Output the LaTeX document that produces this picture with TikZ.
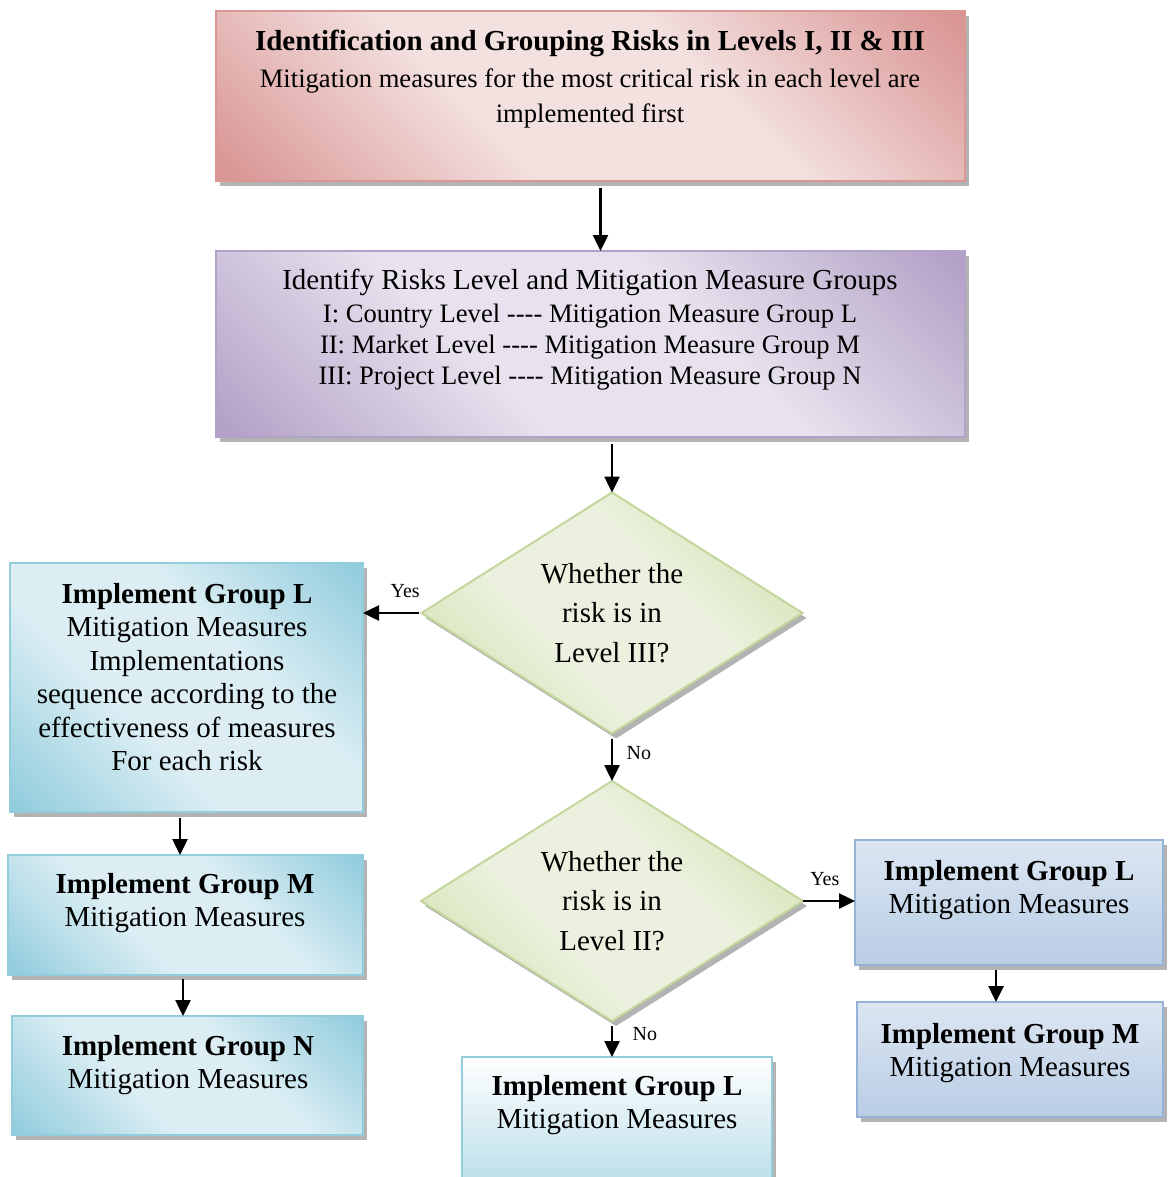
\documentclass[tikz,border=0pt]{standalone}
\usepackage{fontspec}
\setmainfont{Liberation Serif}
\usetikzlibrary{shapes.geometric,shadows,arrows.meta}

\definecolor{pinkdark}{HTML}{D99694}
\definecolor{pinklight}{HTML}{F3E1E0}
\definecolor{purpledark}{HTML}{B3A2C7}
\definecolor{purplelight}{HTML}{E7E2EE}
\definecolor{aquadark}{HTML}{93CDDD}
\definecolor{aqualight}{HTML}{DCEEF4}
\definecolor{aquamid}{HTML}{B7DDE8}
\definecolor{bluedark}{HTML}{95B3D7}
\definecolor{bluelight}{HTML}{DCE6F2}
\definecolor{bluemid}{HTML}{B9CDE5}
\definecolor{greendark}{HTML}{C3D69B}
\definecolor{greenmid}{HTML}{CCDDA6}
\definecolor{greenlight}{HTML}{EBF1DE}

% soft diagonal fill: dark corners, wide light middle
\newcommand{\softshade}[3]{%
  \pgfdeclareverticalshading{#1}{100bp}{color(0bp)=(#2); color(16bp)=(#2);
    color(40bp)=(#3); color(60bp)=(#3); color(84bp)=(#2); color(100bp)=(#2)}}
\softshade{pinkshade}{pinkdark}{pinklight}
\softshade{purpleshade}{purpledark}{purplelight}
\softshade{aquashade}{aquadark}{aqualight}
\softshade{greenshade}{greenmid}{greenlight}

\newcommand{\fbig}{\fontsize{29}{33.5}\selectfont}
\newcommand{\fsmall}{\fontsize{20}{24}\selectfont}

\begin{document}
\begin{tikzpicture}[x=1pt, y=-1pt, >={Triangle[length=16pt, width=15pt]},
    box/.style={draw, rectangle, line width=2pt, inner sep=0pt, outer sep=0pt,
        drop shadow={shadow xshift=4pt, shadow yshift=-5pt, fill=black!50, opacity=.6}},
    decision/.style={draw=greendark, diamond, aspect=1.58, line width=2pt, inner sep=0pt,
        outer sep=0pt, align=center, font=\fontsize{29}{39.5}\selectfont,
        shading=greenshade, shading angle=-45,
        drop shadow={shadow xshift=4pt, shadow yshift=-5pt, fill=black!50, opacity=.6}},
    diag/.style={shading=#1, shading angle=-45},
    txt/.style={anchor=north, align=center, inner sep=0pt, font=\fbig},
    arr/.style={->, line width=2.5pt},
    answer/.style={font=\fsmall, inner sep=3.33pt}]
    \def\xl{187}
    \def\xm{612}
    \def\xr{1010}
    \useasboundingbox (0,0) rectangle (1169,1177);
    \clip (0,0) rectangle (1169,1177);

    % Draw the two boxes at the top
    \node[box, draw=pinkdark, diag=pinkshade, minimum width=749pt, minimum height=170pt] (ident) at (590.5,96) {};
    \node[txt, font=\fontsize{26.6}{35}\selectfont] (identtxt) at (590,30)
        {{\bfseries\fontsize{29}{35}\selectfont Identification and Grouping Risks in Levels I, II \& III}\\[2pt]
         Mitigation measures for the most critical risk in each level are\\ implemented first};

    \node[box, draw=purpledark, diag=purpleshade, minimum width=749pt, minimum height=186pt] (levels) at (590.5,344) {};
    \node[txt, font=\fontsize{26.6}{31}\selectfont] (levelstxt) at (590,269)
        {{\fontsize{29}{31}\selectfont Identify Risks Level and Mitigation Measure Groups}\\[2pt]
         I: Country Level -{}-{}-{}- Mitigation Measure Group L\\
         II: Market Level -{}-{}-{}- Mitigation Measure Group M\\
         III: Project Level -{}-{}-{}- Mitigation Measure Group N};

    % Draw the two decisions
    \node[decision, minimum width=381pt, minimum height=241pt] (lvlthree) at (\xm,613) {Whether the\\ risk is in\\ Level III?};
    \node[decision, minimum width=382pt, minimum height=240pt] (lvltwo) at (\xm,901) {Whether the\\ risk is in\\ Level II?};

    % Draw the left column (Level III)
    \node[box, draw=aquadark, diag=aquashade, minimum width=353pt, minimum height=249pt] (grpL) at (186.5,687.5) {};
    \node[txt] (grpLtxt) at (\xl,583) {\textbf{Implement Group L}\\ Mitigation Measures\\ Implementations\\
        sequence according to the\\ effectiveness of measures\\ For each risk};
    \node[box, draw=aquadark, diag=aquashade, minimum width=355pt, minimum height=120pt] (grpM) at (185.5,915) {};
    \node[txt] (grpMtxt) at (185,873) {\textbf{Implement Group M}\\ Mitigation Measures};
    \node[box, draw=aquadark, diag=aquashade, minimum width=351pt, minimum height=119pt] (grpN) at (187.5,1075.5) {};
    \node[txt] (grpNtxt) at (188,1035) {\textbf{Implement Group N}\\ Mitigation Measures};

    % Draw the right column (Level II)
    \node[box, draw=bluedark, top color=bluelight, bottom color=bluemid, minimum width=308pt, minimum height=125pt] (grpLr) at (1009,902.5) {};
    \node[txt] (grpLrtxt) at (1009,860) {\textbf{Implement Group L}\\ Mitigation Measures};
    \node[box, draw=bluedark, top color=bluelight, bottom color=bluemid, minimum width=306pt, minimum height=115pt] (grpMr) at (\xr,1059.5) {};
    \node[txt] (grpMrtxt) at (\xr,1023) {\textbf{Implement Group M}\\ Mitigation Measures};

    % Draw the bottom box (Level I)
    \node[box, draw=aquadark, top color=white, bottom color=aquamid, minimum width=310pt, minimum height=133pt] (grpLb) at (617,1123.5) {};
    \node[txt] (grpLbtxt) at (617,1075) {\textbf{Implement Group L}\\ Mitigation Measures};

    % Draw the arrows
    \draw[arr, shorten <=7pt] ([xshift=10pt]ident.south) -- ([xshift=10pt]levels.north);
    \draw[arr, shorten <=7pt] (lvlthree.north |- levels.south) -- (lvlthree.north);
    \draw[arr, shorten <=3pt] (lvlthree.west) -- (lvlthree.west -| grpL.east)
        node[answer, pos=.28, above=11pt] {Yes};
    \draw[arr, shorten <=5pt] (lvlthree.south) -- (lvltwo.north)
        node[answer, pos=.42, right=10pt] {No};
    \draw[arr] (lvltwo.east) -- (lvltwo.east -| grpLr.west)
        node[answer, pos=.42, above=11pt] {Yes};
    \draw[arr, shorten <=5pt] (lvltwo.south) -- (lvltwo.south |- grpLb.north)
        node[answer, pos=.36, right=16pt] {No};
    \draw[arr, shorten <=6pt] ([xshift=-6.5pt]grpL.south) -- ([xshift=-6.5pt]grpL.south |- grpM.north);
    \draw[arr, shorten <=4pt] ([xshift=-2.5pt]grpM.south) -- ([xshift=-2.5pt]grpM.south |- grpN.north);
    \draw[arr, shorten <=5pt] ([xshift=-13pt]grpLr.south) -- ([xshift=-13pt]grpLr.south |- grpMr.north);
\end{tikzpicture}
\end{document}
